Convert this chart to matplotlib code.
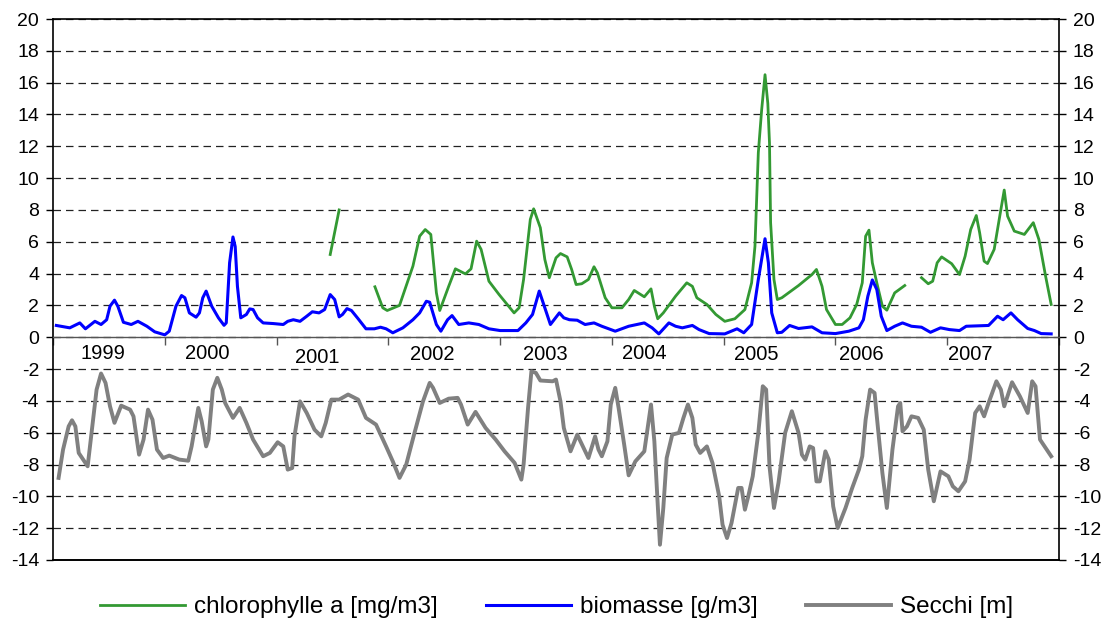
import matplotlib
matplotlib.use("Agg")
import matplotlib.pyplot as plt
from matplotlib.ticker import FixedLocator, FuncFormatter

plt.rcParams['font.family'] = ['Liberation Sans', 'DejaVu Sans']

# ---------------- data (decimal years, values) ----------------
bio_t = [1999.03, 1999.15, 1999.24, 1999.29, 1999.375, 1999.43, 1999.48, 1999.51, 1999.55, 1999.58,
         1999.63, 1999.70, 1999.76, 1999.84, 1999.91, 2000.0, 2000.04, 2000.10, 2000.15, 2000.18,
         2000.22, 2000.28, 2000.31, 2000.34, 2000.37, 2000.42, 2000.48, 2000.53, 2000.55, 2000.58,
         2000.61, 2000.63, 2000.65, 2000.68, 2000.73, 2000.76, 2000.79, 2000.83, 2000.88, 2000.97,
         2001.06, 2001.10, 2001.15, 2001.21, 2001.27, 2001.32, 2001.38, 2001.43, 2001.48, 2001.52,
         2001.56, 2001.59, 2001.63, 2001.67, 2001.73, 2001.80, 2001.875, 2001.93, 2001.98, 2002.04,
         2002.13, 2002.22, 2002.28, 2002.34, 2002.37, 2002.43, 2002.47, 2002.53, 2002.57, 2002.63,
         2002.72, 2002.81, 2002.90, 2003.0, 2003.16, 2003.23, 2003.29, 2003.35, 2003.39, 2003.45,
         2003.53, 2003.57, 2003.62, 2003.69, 2003.76, 2003.84, 2003.91, 2004.03, 2004.15, 2004.29,
         2004.36, 2004.42, 2004.51, 2004.57, 2004.63, 2004.72, 2004.78, 2004.87, 2005.01, 2005.12,
         2005.18, 2005.25, 2005.31, 2005.37, 2005.40, 2005.43, 2005.48, 2005.52, 2005.59, 2005.67,
         2005.79, 2005.88, 2006.0, 2006.12, 2006.21, 2006.25, 2006.29, 2006.33, 2006.37, 2006.41,
         2006.46, 2006.53, 2006.60, 2006.68, 2006.77, 2006.85, 2006.94, 2007.02, 2007.11, 2007.17,
         2007.37, 2007.45, 2007.50, 2007.57, 2007.63, 2007.72, 2007.78, 2007.84, 2007.93]
bio_v = [0.74, 0.59, 0.9, 0.53, 1.0, 0.8, 1.1, 1.95, 2.33, 1.95,
         0.94, 0.8, 1.0, 0.69, 0.34, 0.15, 0.38, 1.95, 2.62, 2.48,
         1.53, 1.26, 1.53, 2.48, 2.9, 1.95, 1.22, 0.75, 0.9, 4.68,
         6.3, 5.7, 3.2, 1.22, 1.43, 1.78, 1.74, 1.22, 0.9, 0.86,
         0.8, 1.0, 1.1, 1.0, 1.32, 1.6, 1.53, 1.74, 2.68, 2.37,
         1.28, 1.43, 1.8, 1.68, 1.16, 0.53, 0.53, 0.63, 0.53, 0.28,
         0.59, 1.1, 1.53, 2.26, 2.2, 0.8, 0.38, 1.1, 1.36, 0.8,
         0.9, 0.8, 0.53, 0.42, 0.42, 0.9, 1.43, 2.9, 2.06, 0.8,
         1.53, 1.22, 1.1, 1.07, 0.8, 0.9, 0.69, 0.38, 0.69, 0.9,
         0.59, 0.21, 0.9, 0.69, 0.59, 0.74, 0.48, 0.23, 0.21, 0.53,
         0.28, 0.8, 3.63, 6.19, 4.68, 1.53, 0.28, 0.31, 0.74, 0.55,
         0.65, 0.28, 0.23, 0.38, 0.59, 1.1, 2.58, 3.6, 3.0, 1.32,
         0.42, 0.69, 0.9, 0.69, 0.63, 0.31, 0.59, 0.48, 0.42, 0.69,
         0.74, 1.32, 1.1, 1.53, 1.1, 0.55, 0.42, 0.23, 0.21]

# chlorophylle a: separate measured segments (gaps in between)
chl1_t = [2001.48, 2001.56]
chl1_v = [5.2, 8.0]
chl2_t = [2001.88, 2001.95, 2001.99, 2002.10, 2002.22, 2002.28, 2002.33, 2002.38, 2002.43, 2002.46,
          2002.54, 2002.60, 2002.69, 2002.74, 2002.79, 2002.83, 2002.90, 2002.99, 2003.125, 2003.17,
          2003.21, 2003.27, 2003.30, 2003.36, 2003.40, 2003.44, 2003.50, 2003.54, 2003.60, 2003.64,
          2003.68, 2003.73, 2003.79, 2003.84, 2003.87, 2003.94, 2004.00, 2004.09, 2004.15, 2004.20,
          2004.29, 2004.35, 2004.38, 2004.41, 2004.46, 2004.57, 2004.67, 2004.72, 2004.76, 2004.85,
          2004.93, 2005.01, 2005.10, 2005.19, 2005.25, 2005.28, 2005.31, 2005.34, 2005.37, 2005.395,
          2005.41, 2005.42, 2005.45, 2005.48, 2005.52, 2005.67, 2005.79, 2005.83, 2005.88, 2005.92,
          2006.0, 2006.06, 2006.13, 2006.19, 2006.24, 2006.27, 2006.30, 2006.33, 2006.37, 2006.42,
          2006.46, 2006.53, 2006.62]
chl2_v = [3.17, 1.85, 1.68, 2.0, 4.47, 6.35, 6.77, 6.46, 2.79, 1.68,
          3.2, 4.3, 3.98, 4.3, 6.04, 5.52, 3.52, 2.69, 1.53, 1.85,
          3.63, 7.4, 8.07, 6.88, 4.89, 3.74, 4.99, 5.26, 5.05, 4.26,
          3.31, 3.36, 3.63, 4.43, 4.05, 2.48, 1.85, 1.85, 2.37, 2.94,
          2.54, 3.04, 1.95, 1.16, 1.53, 2.58, 3.42, 3.2, 2.48, 2.06,
          1.43, 1.0, 1.16, 1.74, 3.42, 5.72, 11.6, 14.3, 16.5, 14.7,
          12.2, 7.2, 3.63, 2.37, 2.48, 3.25, 3.94, 4.26, 3.2, 1.74,
          0.8, 0.8, 1.22, 2.06, 3.42, 6.35, 6.73, 4.68, 3.42, 1.95,
          1.7, 2.79, 3.25]
chl3_t = [2006.77, 2006.83, 2006.87, 2006.91, 2006.95, 2007.04, 2007.11, 2007.16, 2007.21, 2007.26,
          2007.29, 2007.33, 2007.36, 2007.42, 2007.47, 2007.51, 2007.54, 2007.60, 2007.69, 2007.77,
          2007.82, 2007.88, 2007.93]
chl3_v = [3.74, 3.36, 3.52, 4.68, 5.05, 4.62, 3.94, 5.09, 6.77, 7.65,
          6.57, 4.78, 4.63, 5.52, 7.61, 9.25, 7.61, 6.67, 6.46, 7.2,
          6.15, 3.84, 2.06]

sec_t = [1999.05, 1999.09, 1999.14, 1999.17, 1999.20, 1999.23, 1999.27, 1999.31, 1999.345, 1999.39,
         1999.43, 1999.47, 1999.51, 1999.55, 1999.61, 1999.69, 1999.72, 1999.77, 1999.81, 1999.85,
         1999.89, 1999.93, 1999.985, 2000.04, 2000.13, 2000.21, 2000.24, 2000.30, 2000.33, 2000.37,
         2000.39, 2000.43, 2000.47, 2000.51, 2000.54, 2000.61, 2000.67, 2000.73, 2000.79, 2000.88,
         2000.94, 2001.01, 2001.06, 2001.10, 2001.14, 2001.16, 2001.21, 2001.27, 2001.34, 2001.40,
         2001.44, 2001.49, 2001.56, 2001.64, 2001.73, 2001.80, 2001.89, 2001.98, 2002.04, 2002.10,
         2002.16, 2002.23, 2002.31, 2002.37, 2002.40, 2002.46, 2002.54, 2002.62, 2002.65, 2002.71,
         2002.78, 2002.87, 2002.96, 2003.04, 2003.13, 2003.19, 2003.21, 2003.25, 2003.28, 2003.32,
         2003.36, 2003.47, 2003.50, 2003.54, 2003.57, 2003.63, 2003.69, 2003.79, 2003.85, 2003.88,
         2003.91, 2003.96, 2003.99, 2004.03, 2004.06, 2004.11, 2004.15, 2004.21, 2004.29, 2004.32,
         2004.35, 2004.38, 2004.41, 2004.43, 2004.46, 2004.49, 2004.54, 2004.60, 2004.64, 2004.68,
         2004.72, 2004.75, 2004.79, 2004.85, 2004.90, 2004.96, 2004.99, 2005.03, 2005.07, 2005.13,
         2005.16, 2005.19, 2005.22, 2005.26, 2005.31, 2005.35, 2005.38, 2005.41, 2005.45, 2005.49,
         2005.55, 2005.61, 2005.67, 2005.70, 2005.73, 2005.77, 2005.80, 2005.83, 2005.86, 2005.91,
         2005.94, 2005.98, 2006.02, 2006.09, 2006.15, 2006.21, 2006.24, 2006.27, 2006.31, 2006.35,
         2006.37, 2006.42, 2006.46, 2006.51, 2006.56, 2006.58, 2006.60, 2006.64, 2006.68, 2006.74,
         2006.79, 2006.83, 2006.88, 2006.94, 2007.01, 2007.05, 2007.10, 2007.16, 2007.20, 2007.25,
         2007.29, 2007.33, 2007.37, 2007.44, 2007.48, 2007.51, 2007.58, 2007.65, 2007.72, 2007.76,
         2007.79, 2007.81, 2007.83, 2007.88, 2007.93]
sec_v = [-8.84, -7.06, -5.6, -5.22, -5.6, -7.27, -7.69, -8.11, -6.01, -3.29,
         -2.28, -2.87, -4.34, -5.38, -4.3, -4.55, -4.97, -7.38, -6.43, -4.55,
         -5.18, -7.06, -7.59, -7.44, -7.69, -7.76, -6.86, -4.44, -5.28, -6.86,
         -6.43, -3.29, -2.55, -3.29, -4.13, -5.07, -4.44, -5.38, -6.43, -7.48,
         -7.27, -6.6, -6.86, -8.32, -8.22, -6.23, -4.03, -4.76, -5.81, -6.23,
         -5.38, -3.92, -3.92, -3.6, -3.92, -5.07, -5.49, -6.86, -7.8, -8.84,
         -8.0, -6.12, -4.03, -2.87, -3.18, -4.13, -3.86, -3.81, -4.23, -5.49,
         -4.69, -5.7, -6.43, -7.17, -7.9, -8.95, -8.0, -4.44, -2.14, -2.24,
         -2.72, -2.77, -2.66, -4.03, -5.7, -7.17, -6.12, -7.59, -6.23, -7.06,
         -7.48, -6.54, -4.23, -3.18, -4.44, -6.75, -8.68, -7.8, -7.17, -5.7,
         -4.23, -6.54, -10.52, -13.04, -10.73, -7.59, -6.12, -6.01, -5.07, -4.23,
         -5.07, -6.75, -7.27, -6.86, -7.9, -10.0, -11.78, -12.62, -11.68, -9.47,
         -9.47, -10.84, -10.0, -8.74, -6.01, -3.08, -3.29, -8.11, -10.73, -9.16,
         -6.01, -4.65, -6.01, -7.38, -7.69, -6.86, -6.96, -9.06, -9.06, -7.17,
         -7.69, -10.63, -11.99, -10.73, -9.47, -8.32, -7.48, -5.18, -3.29, -3.5,
         -4.97, -8.53, -10.73, -7.06, -4.34, -4.13, -5.91, -5.6, -4.97, -5.07,
         -5.81, -8.32, -10.31, -8.43, -8.74, -9.37, -9.68, -9.06, -7.69, -4.76,
         -4.34, -4.97, -4.13, -2.77, -3.29, -4.34, -2.83, -3.71, -4.76, -2.77,
         -3.08, -4.76, -6.43, -6.96, -7.48]

years = ['1999', '2000', '2001', '2002', '2003', '2004', '2005', '2006', '2007']
year_label_x = [1999.45, 2000.38, 2001.36, 2002.39, 2003.40, 2004.29, 2005.29, 2006.23, 2007.21]
year_label_y = [-1.0, -1.0, -1.3, -1.1, -1.1, -1.0, -1.1, -1.1, -1.1]
year_ticks = list(range(1999, 2009))
y_ticks = list(range(-14, 21, 2))

GREEN = '#339933'
BLUE = '#0000FF'
GRAY = '#808080'

fig = plt.figure(figsize=(11.13, 6.28), dpi=100)
ax = fig.add_axes([53 / 1113, 1 - 560 / 628, (1059 - 53) / 1113, (560 - 19) / 628])

ax.set_xlim(1999, 2008)
ax.set_ylim(-14, 20)

l_sec, = ax.plot(sec_t, sec_v, color=GRAY, lw=2.8, label='Secchi [m]', zorder=3,
                 solid_joinstyle='round')
l_chl, = ax.plot(chl2_t, chl2_v, color=GREEN, lw=2.0, label='chlorophylle a [mg/m3]', zorder=4,
                 solid_joinstyle='round')
ax.plot(chl1_t, chl1_v, color=GREEN, lw=2.0, zorder=4)
ax.plot(chl3_t, chl3_v, color=GREEN, lw=2.0, zorder=4, solid_joinstyle='round')
l_bio, = ax.plot(bio_t, bio_v, color=BLUE, lw=2.2, label='biomasse [g/m3]', zorder=5,
                 solid_joinstyle='round')

# grid
ax.yaxis.set_major_locator(FixedLocator(y_ticks))
ax.yaxis.set_major_formatter(FuncFormatter(lambda v, p: '%d' % v))
ax.grid(axis='y', color='#222222', linestyle=(0, (6, 4)), linewidth=0.9)
ax.set_axisbelow(True)

# spines: bottom moved to y = 0, draw frame lines explicitly
for s in ['left', 'right', 'top']:
    ax.spines[s].set_linewidth(1.2)
    ax.spines[s].set_color('black')
ax.spines['bottom'].set_position(('data', 0))
ax.spines['bottom'].set_linewidth(1.0)
ax.spines['bottom'].set_color('#555555')
ax.axhline(-14, color='black', lw=1.4, clip_on=False, zorder=6)

ax.xaxis.set_major_locator(FixedLocator(year_ticks))
ax.set_xticklabels([''] * len(year_ticks))
ax.tick_params(axis='x', direction='out', length=6, width=1.0, color='#555555')
ax.tick_params(axis='y', which='both', left=True, right=True, labelleft=True, labelright=True,
               direction='out', length=5, width=1.0, pad=5, labelsize=14)

for lab, xx, yy in zip(years, year_label_x, year_label_y):
    ax.text(xx, yy, lab, ha='center', va='center', fontsize=14.5)

fig.legend([l_chl, l_bio, l_sec], ['chlorophylle a [mg/m3]', 'biomasse [g/m3]', 'Secchi [m]'],
           loc='center', bbox_to_anchor=(0.5, 1 - 607 / 628), ncol=3, frameon=False,
           fontsize=17.5, handlelength=3.5, handletextpad=0.35, columnspacing=2.0)

fig.savefig('out.png', dpi=100)
